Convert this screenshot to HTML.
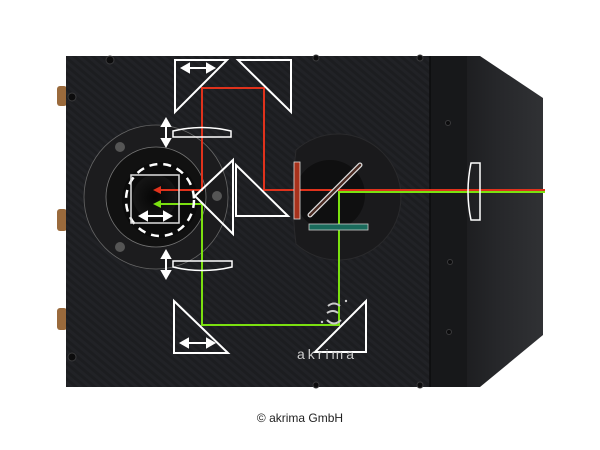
<!DOCTYPE html>
<html><head><meta charset="utf-8"><style>
html,body{margin:0;padding:0;background:#fff;width:600px;height:450px;overflow:hidden}
svg{display:block}
</style></head><body>
<svg width="600" height="450" viewBox="0 0 600 450" xmlns="http://www.w3.org/2000/svg">
<defs>
<pattern id="cf" width="6" height="6" patternUnits="userSpaceOnUse" patternTransform="rotate(-50)">
<rect width="6" height="6" fill="#1c1d20"/><rect width="3" height="6" fill="#212226"/>
</pattern>
<linearGradient id="rg" x1="0" y1="0" x2="1" y2="0">
<stop offset="0" stop-color="#141416"/><stop offset="0.6" stop-color="#26272a"/><stop offset="1" stop-color="#303134"/>
</linearGradient>
<radialGradient id="hole" cx="0.5" cy="0.5" r="0.5">
<stop offset="0" stop-color="#050505"/><stop offset="1" stop-color="#151515"/>
</radialGradient>
</defs>
<rect x="57" y="86" width="10" height="20" rx="3" fill="#9a6a3c"/>
<rect x="57" y="209" width="10" height="22" rx="3" fill="#9a6a3c"/>
<rect x="57" y="308" width="10" height="22" rx="3" fill="#9a6a3c"/>
<rect x="66" y="56" width="366" height="331" fill="url(#cf)"/>
<polygon points="430,56 480,56 543,98 543,335 480,387 430,387" fill="url(#rg)"/>
<rect x="430" y="56" width="37" height="331" fill="#17181a"/>
<line x1="430" y1="56" x2="430" y2="387" stroke="#0c0c0d" stroke-width="1.5"/>
<g fill="#0c0c0d" stroke="#3a3a3c" stroke-width="1">
<circle cx="110" cy="60" r="4"/><circle cx="72" cy="97" r="4"/><circle cx="72" cy="357" r="4"/>
<circle cx="316" cy="58" r="3"/><circle cx="420" cy="58" r="3"/><circle cx="316" cy="385" r="3"/><circle cx="420" cy="385" r="3"/>
<circle cx="448" cy="123" r="2.5"/><circle cx="450" cy="262" r="2.5"/><circle cx="449" cy="332" r="2.5"/>
</g>
<circle cx="156" cy="197" r="72" fill="#1c1c1e" stroke="#666" stroke-width="0.8"/>
<circle cx="156" cy="197" r="50" fill="#111" stroke="#777" stroke-width="0.8"/>
<circle cx="160" cy="200" r="38" fill="#0b0b0b"/>
<circle cx="155" cy="197" r="22" fill="url(#hole)"/>
<circle cx="120" cy="147" r="5" fill="#555"/><circle cx="120" cy="247" r="5" fill="#555"/><circle cx="217" cy="196" r="5" fill="#555"/>
<path d="M 296 150 A 63 63 0 1 1 296 244 Q 290 197 296 150 Z" fill="#1a1a1c" stroke="#2a2a2c" stroke-width="1"/>
<circle cx="330" cy="195" r="35" fill="#0f0f10"/>
<polyline points="545,190 264,190 264,88 202,88 202,190 160,190" fill="none" stroke="#e0321c" stroke-width="2"/>
<polygon points="153,190 161,186 161,194" fill="#e0321c"/>
<polyline points="545,192 339,192 339,325 202,325 202,204 160,204" fill="none" stroke="#7be010" stroke-width="2"/>
<polygon points="153,204 161,200 161,208" fill="#7be010"/>
<g fill="none" stroke="#fff" stroke-width="2" stroke-linejoin="miter">
<polygon points="175,60 227,60 175,112"/>
<polygon points="238,60 291,60 291,112"/>
<polygon points="174,301 174,353 228,353"/>
<polygon points="366,301 366,352 315,352"/>
<polygon points="195,196 233,160 233,234"/>
<polygon points="236,165 236,216 288,216"/>
<path d="M173,131 Q202,124 231,131 L231,137 L173,137 Z" stroke-width="1.5"/>
<path d="M173,261 L232,261 L232,267 Q202,274 173,267 Z" stroke-width="1.5"/>
<path d="M471,163 L480,163 L480,220 L471,220 Q465,192 471,163 Z" stroke-width="1.5"/>
<ellipse cx="160" cy="200" rx="34" ry="36" stroke-width="2.5" stroke-dasharray="8 6"/>
</g>
<rect x="131" y="175" width="48" height="48" fill="none" stroke="#ddd" stroke-width="1.5"/>
<g stroke="#fff" stroke-width="2" fill="#fff">
<line x1="186" y1="68" x2="210" y2="68"/><polygon points="182,68 189,64 189,72"/><polygon points="214,68 207,64 207,72"/>
<line x1="185" y1="343" x2="210" y2="343"/><polygon points="181,343 188,339 188,347"/><polygon points="214,343 207,339 207,347"/>
<line x1="144" y1="216" x2="167" y2="216"/><polygon points="140,216 147,212 147,220"/><polygon points="171,216 164,212 164,220"/>
<line x1="166" y1="123" x2="166" y2="142"/><polygon points="166,119 162,126 170,126"/><polygon points="166,146 162,139 170,139"/>
<line x1="166" y1="255" x2="166" y2="274"/><polygon points="166,251 162,258 170,258"/><polygon points="166,278 162,271 170,271"/>
</g>
<rect x="294" y="162" width="6" height="57" fill="#a8321c" stroke="#ddd" stroke-width="0.8"/>
<line x1="310" y1="215" x2="360" y2="165" stroke="#ddd" stroke-width="5" stroke-linecap="round"/>
<line x1="310" y1="215" x2="360" y2="165" stroke="#4a2a22" stroke-width="2.5" stroke-linecap="round"/>
<rect x="309" y="224" width="59" height="6" fill="#1a6b5c" stroke="#ccc" stroke-width="0.8"/>
<g fill="none" stroke="#ccc" stroke-width="2">
<path d="M328,306 Q334,301 340,306"/><path d="M327,313 Q333,309 338,313"/><path d="M327,320 Q334,327 341,320"/>
</g>
<circle cx="346" cy="301" r="1.2" fill="#ccc"/><circle cx="322" cy="322" r="1.2" fill="#ccc"/>
<text x="297" y="359" font-family="Liberation Sans, sans-serif" font-size="14" letter-spacing="3" fill="#ccc">akrima</text>
<text x="300" y="422" text-anchor="middle" font-family="Liberation Sans, sans-serif" font-size="12" fill="#222">© akrima GmbH</text>
</svg>
</body></html>
